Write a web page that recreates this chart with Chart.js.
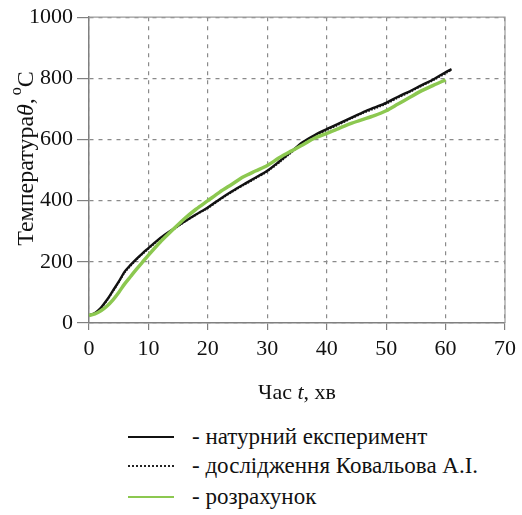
<!DOCTYPE html>
<html><head><meta charset="utf-8">
<script src="https://cdn.jsdelivr.net/npm/chart.js@4"></script>
<style>
html,body{margin:0;padding:0;background:#fff;}
#wrap{position:relative;width:522px;height:515px;}
#c{position:absolute;left:0;top:0;}
.lg{position:absolute;left:128px;font-family:"Liberation Serif","DejaVu Serif",serif;font-size:23px;color:#111;height:26px;line-height:26px;}
.lg .s{position:absolute;left:0;top:12px;width:46px;height:0;}
.lg .t{position:absolute;left:64px;top:0;white-space:nowrap;}
</style></head>
<body><div id="wrap"><canvas id="c" width="522" height="420"></canvas>
<div class="lg" style="top:424px"><div class="s" style="border-top:2.5px solid #111"></div><span class="t">- натурний експеримент</span></div>
<div class="lg" style="top:453px"><div class="s" style="border-top:2px dotted #222"></div><span class="t">- дослідження Ковальова А.І.</span></div>
<div class="lg" style="top:484px"><div class="s" style="border-top:2.5px solid #8cc850"></div><span class="t">- розрахунок</span></div>
</div>
<script>
const timeExp = [0,1,2,3,4,5,6,7,8,9,10,11,12,14,16,18,20,22,24,26,28,30,32,34,36,38,40,42,44,46,48,50,52,54,56,58,60,61];
const tempExp = [25,33,50,75,105,135,168,190,210,228,245,262,278,305,331,355,378,405,430,453,475,498,528,560,592,615,634,652,670,688,704,720,740,758,778,797,820,830];
const timeKov = [0,1,2,3,4,5,6,7,8,9,10,11,12,14,16,18,20,22,24,26,28,30,32,34,36,38,40,42,44,46,48,50,52,54,56,58,60,61];
const tempKov = [25,32,48,72,102,132,164,186,207,225,242,259,275,302,329,353,375,402,427,450,472,495,524,556,588,611,630,648,667,685,700,716,736,755,775,794,816,827];
const timeCalc = [0,1,2,3,4,5,6,7,8,9,10,12,14,16,18,20,22,24,26,28,30,32,34,36,38,40,42,44,46,48,50,52,54,56,58,60];
const tempCalc = [25,30,40,55,75,100,128,152,176,199,222,265,303,340,372,400,428,453,478,497,515,540,562,583,605,620,636,652,665,678,694,716,738,760,778,795];
const xTicks = [0,10,20,30,40,50,60,70];
const yTicks = [0,200,400,600,800,1000];
const seriesNames = ["натурний експеримент","дослідження Ковальова А.І.","розрахунок"];

const pts = (xs, ys) => xs.map((x,i)=>({x:x,y:ys[i]}));
const serif = '"Liberation Serif", "DejaVu Serif", serif';

const frame = {
  id:'frame',
  afterDraw(chart){
    const {ctx, chartArea:a} = chart;
    ctx.save();
    ctx.strokeStyle = '#9a9a9a'; ctx.lineWidth = 1.2;
    ctx.beginPath();
    ctx.moveTo(a.left, a.top); ctx.lineTo(a.right, a.top); ctx.lineTo(a.right, a.bottom);
    ctx.stroke();
    ctx.restore();
    ctx.save();
    ctx.fillStyle = '#111';
    ctx.translate(27, 160);
    ctx.rotate(-Math.PI/2);
    const parts = [['Температура','24px '+serif,0],['θ','italic 24px '+serif,0],[',','24px '+serif,0],['o','16px '+serif,-10],['C','24px '+serif,0]];
    let w = 0;
    parts.forEach(p=>{ctx.font=p[1]; w+=ctx.measureText(p[0]).width;});
    let x = -w/2;
    ctx.textBaseline='middle';
    parts.forEach(p=>{ctx.font=p[1]; ctx.fillText(p[0], x, p[2]); x+=ctx.measureText(p[0]).width + (p[0]===','?3:0);});
    ctx.restore();
    ctx.save();
    ctx.fillStyle='#111'; ctx.textBaseline='middle';
    const xp = [['Час ','22px '+serif],['t','italic 22px '+serif],[', хв','22px '+serif]];
    let w2=0; xp.forEach(p=>{ctx.font=p[1]; w2+=ctx.measureText(p[0]).width;});
    let x2 = (a.left+a.right)/2 - w2/2;
    xp.forEach(p=>{ctx.font=p[1]; ctx.fillText(p[0], x2, 393); x2+=ctx.measureText(p[0]).width;});
    ctx.restore();
  }
};

function build(){
new Chart(document.getElementById('c'), {
  type:'line',
  data:{datasets:[
    {label:seriesNames[2], data:pts(timeCalc,tempCalc), borderColor:'#8cc850', borderWidth:3.5, pointRadius:0, tension:0.3, fill:false},
    {label:seriesNames[0], data:pts(timeExp,tempExp), borderColor:'#111', borderWidth:2.4, pointRadius:0, tension:0.3, fill:false},
    {label:seriesNames[1], data:pts(timeKov,tempKov), borderColor:'#222', borderWidth:1.6, borderDash:[1.5,1.5], pointRadius:0, tension:0.3, fill:false}
  ]},
  options:{
    responsive:false, animation:false,
    layout:{padding:{top:16,right:12,left:0,bottom:0}},
    plugins:{legend:{display:false}, tooltip:{enabled:false}},
    scales:{
      x:{type:'linear', min:0, max:70,
        afterBuildTicks:s=>{s.ticks = xTicks.map(v=>({value:v}));},
        afterFit:s=>{s.height = 97;},
        border:{display:true,color:'#808080',width:1.5,dash:[4,5]},
        grid:{color:'#8a8a8a', lineWidth:1.2, tickBorderDash:[], tickLength:7, tickColor:'#808080'},
        ticks:{font:{family:serif,size:22}, color:'#111', padding:6, maxRotation:0, callback:v=>String(v)}
      },
      y:{type:'linear', min:0, max:1000,
        afterBuildTicks:s=>{s.ticks = yTicks.map(v=>({value:v}));},
        afterFit:s=>{s.width = 89;},
        border:{display:true,color:'#808080',width:1.5,dash:[4,5]},
        grid:{color:'#8a8a8a', lineWidth:1.2, tickBorderDash:[], tickLength:12, tickColor:'#808080'},
        ticks:{font:{family:serif,size:22}, color:'#111', padding:4, callback:v=>String(v)}
      }
    }
  },
  plugins:[frame]
});
}
Promise.all([document.fonts.load('22px "Liberation Serif"'), document.fonts.load('italic 22px "Liberation Serif"')]).then(build, build);
</script></body></html>
